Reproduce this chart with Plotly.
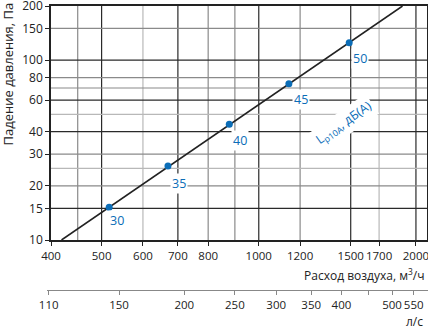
import math
import plotly.graph_objects as go

# ---------------- data ----------------
flow_points = [517, 670, 878, 1142, 1490]          # м3/ч
pressure_points = [15.2, 25.8, 44, 74, 125]        # Па
noise_labels = ["30", "35", "40", "45", "50"]      # Lp10A, дБ(A)

line_flow = [419, 1885]
line_pressure = [10, 200]

x_tick_vals = [400, 500, 600, 700, 800, 1000, 1200, 1500, 1700, 2000]
y_tick_vals = [10, 15, 20, 30, 40, 60, 80, 100, 150, 200]
ls_tick_vals = [110, 150, 200, 250, 300, 350, 400, 450, 500, 550]
ls_tick_text = ["110", "150", "200", "250", "300", "350", "400", "", "500", "550"]

x_grid_dark = [500, 700, 1000, 1500, 2000]
x_grid_mid = [450, 800, 900, 1200]
x_grid_light = [600, 1700]
y_grid_dark = [15, 40, 60, 100]
y_grid_mid = [20, 30, 70, 80, 150]
y_grid_light = [25, 50]

X_MIN, X_MAX = 400, 2100
Y_MIN, Y_MAX = 10, 200

# ---------------- style ----------------
BLUE = "#0b6db7"
DARK = "#222222"
FONT = "Open Sans"
W, H = 428, 330
ML, MR, MT, MB = 47, 0, 6, 40
PLOT_LEFT = 51  # pixel where the main plot starts

fig = go.Figure()


def vlines(vals):
    xs, ys = [], []
    for v in vals:
        xs += [v, v, None]
        ys += [Y_MIN, Y_MAX, None]
    return xs, ys


def hlines(vals):
    xs, ys = [], []
    for v in vals:
        xs += [X_MIN, X_MAX, None]
        ys += [v, v, None]
    return xs, ys


for vals, col in [(x_grid_light, "#b8b8b8"), (x_grid_mid, "#8a8a8a"), (x_grid_dark, "#2a2a2a")]:
    xs, ys = vlines(vals)
    fig.add_trace(go.Scatter(x=xs, y=ys, mode="lines", line=dict(color=col, width=1.2),
                             hoverinfo="skip", showlegend=False))
for vals, col in [(y_grid_light, "#b8b8b8"), (y_grid_mid, "#8a8a8a"), (y_grid_dark, "#2a2a2a")]:
    xs, ys = hlines(vals)
    fig.add_trace(go.Scatter(x=xs, y=ys, mode="lines", line=dict(color=col, width=1.2),
                             hoverinfo="skip", showlegend=False))

fig.add_trace(go.Scatter(x=line_flow, y=line_pressure, mode="lines",
                         line=dict(color=DARK, width=1.6), hoverinfo="skip", showlegend=False))
fig.add_trace(go.Scatter(x=flow_points, y=pressure_points, mode="markers",
                         marker=dict(color=BLUE, size=7), hoverinfo="skip", showlegend=False))

# invisible trace on secondary axis
fig.add_trace(go.Scatter(x=[X_MIN / 3.6], y=[0], xaxis="x2", yaxis="y2", mode="markers",
                         marker=dict(opacity=0), hoverinfo="skip", showlegend=False))

annotations = []
label_shift = [(8, -13), (11, -18), (11, -16), (12, -16), (11, -16)]
for xv, yv, t, (dx, dy) in zip(flow_points, pressure_points, noise_labels, label_shift):
    annotations.append(dict(x=math.log10(xv), y=math.log10(yv), xref="x", yref="y", text=t,
                            showarrow=False, xshift=dx, yshift=dy, bgcolor="white", borderpad=1,
                            font=dict(family=FONT, size=12.5, color=BLUE)))

annotations.append(dict(x=math.log10(1455), y=math.log10(44.4), xref="x", yref="y",
                        text="L<sub>p10A</sub>, дБ(A)", textangle=-35, showarrow=False,
                        bgcolor="white", borderpad=2,
                        font=dict(family=FONT, size=12.5, color=BLUE)))

plot_h = H - MT - MB
annotations.append(dict(x=1, y=(290 - 275) / plot_h, xref="paper", yref="paper",
                        text="Расход воздуха, м<sup>3</sup>/ч", showarrow=False,
                        xanchor="right", yanchor="middle", xshift=-2,
                        font=dict(family=FONT, size=12, color=DARK)))
annotations.append(dict(x=1, y=(290 - 321) / plot_h, xref="paper", yref="paper",
                        text="л/с", showarrow=False, xanchor="right", yanchor="middle", xshift=-3,
                        font=dict(family=FONT, size=12, color=DARK)))
annotations.append(dict(x=0, y=1, xref="paper", yref="paper", text="Падение давления, Па",
                        textangle=-90, showarrow=False, xanchor="center", yanchor="top",
                        xshift=11 - PLOT_LEFT, yshift=5, font=dict(family=FONT, size=13, color=DARK)))

pw = W - ML - MR
d0 = (PLOT_LEFT - ML) / pw
d1 = (pw - 1) / pw
lx0, lx1 = math.log10(X_MIN), math.log10(X_MAX)
per = (lx1 - lx0) / (d1 - d0)
r2_0 = lx0 - d0 * per - math.log10(3.6)
r2_1 = lx1 + (1 - d1) * per - math.log10(3.6)

y_dom0 = (290 - 240) / plot_h

fig.update_layout(
    width=W, height=H,
    margin=dict(l=ML, r=MR, t=MT, b=MB, autoexpand=False),
    paper_bgcolor="white", plot_bgcolor="white",
    font=dict(family=FONT, size=12, color=DARK),
    showlegend=False,
    xaxis=dict(type="log", range=[lx0, lx1], domain=[d0, d1], anchor="y",
               tickvals=x_tick_vals, ticktext=[str(v) for v in x_tick_vals], tickangle=0,
               ticklabeloverflow="allow", automargin=False,
               showgrid=False, zeroline=False, showline=True, linecolor=DARK, linewidth=1.6,
               mirror=True, ticks="outside", ticklen=4, tickcolor=DARK, tickwidth=1,
               tickfont=dict(family=FONT, size=11.5, color=DARK)),
    yaxis=dict(type="log", range=[math.log10(Y_MIN), math.log10(Y_MAX)], domain=[y_dom0, 1],
               anchor="x", tickvals=y_tick_vals, ticktext=[str(v) for v in y_tick_vals],
               ticklabeloverflow="allow", automargin=False,
               showgrid=False, zeroline=False, showline=True, linecolor=DARK, linewidth=1.6,
               mirror=True, ticks="outside", ticklen=4, tickcolor=DARK, tickwidth=1,
               tickfont=dict(family=FONT, size=12, color=DARK)),
    xaxis2=dict(type="log", range=[r2_0, r2_1], domain=[0, 1], anchor="y2",
                tickvals=ls_tick_vals, ticktext=ls_tick_text, tickangle=0,
                ticklabeloverflow="allow", automargin=False,
                showgrid=False, zeroline=False, showline=True, linecolor="#888888", linewidth=1.2,
                ticks="outside", ticklen=4, tickcolor="#888888", tickwidth=1.2,
                tickfont=dict(family=FONT, size=11.5, color=DARK)),
    yaxis2=dict(domain=[0, 0.001], anchor="x2", visible=False, range=[0, 1]),
    annotations=annotations,
)

fig.write_html("out.html")
